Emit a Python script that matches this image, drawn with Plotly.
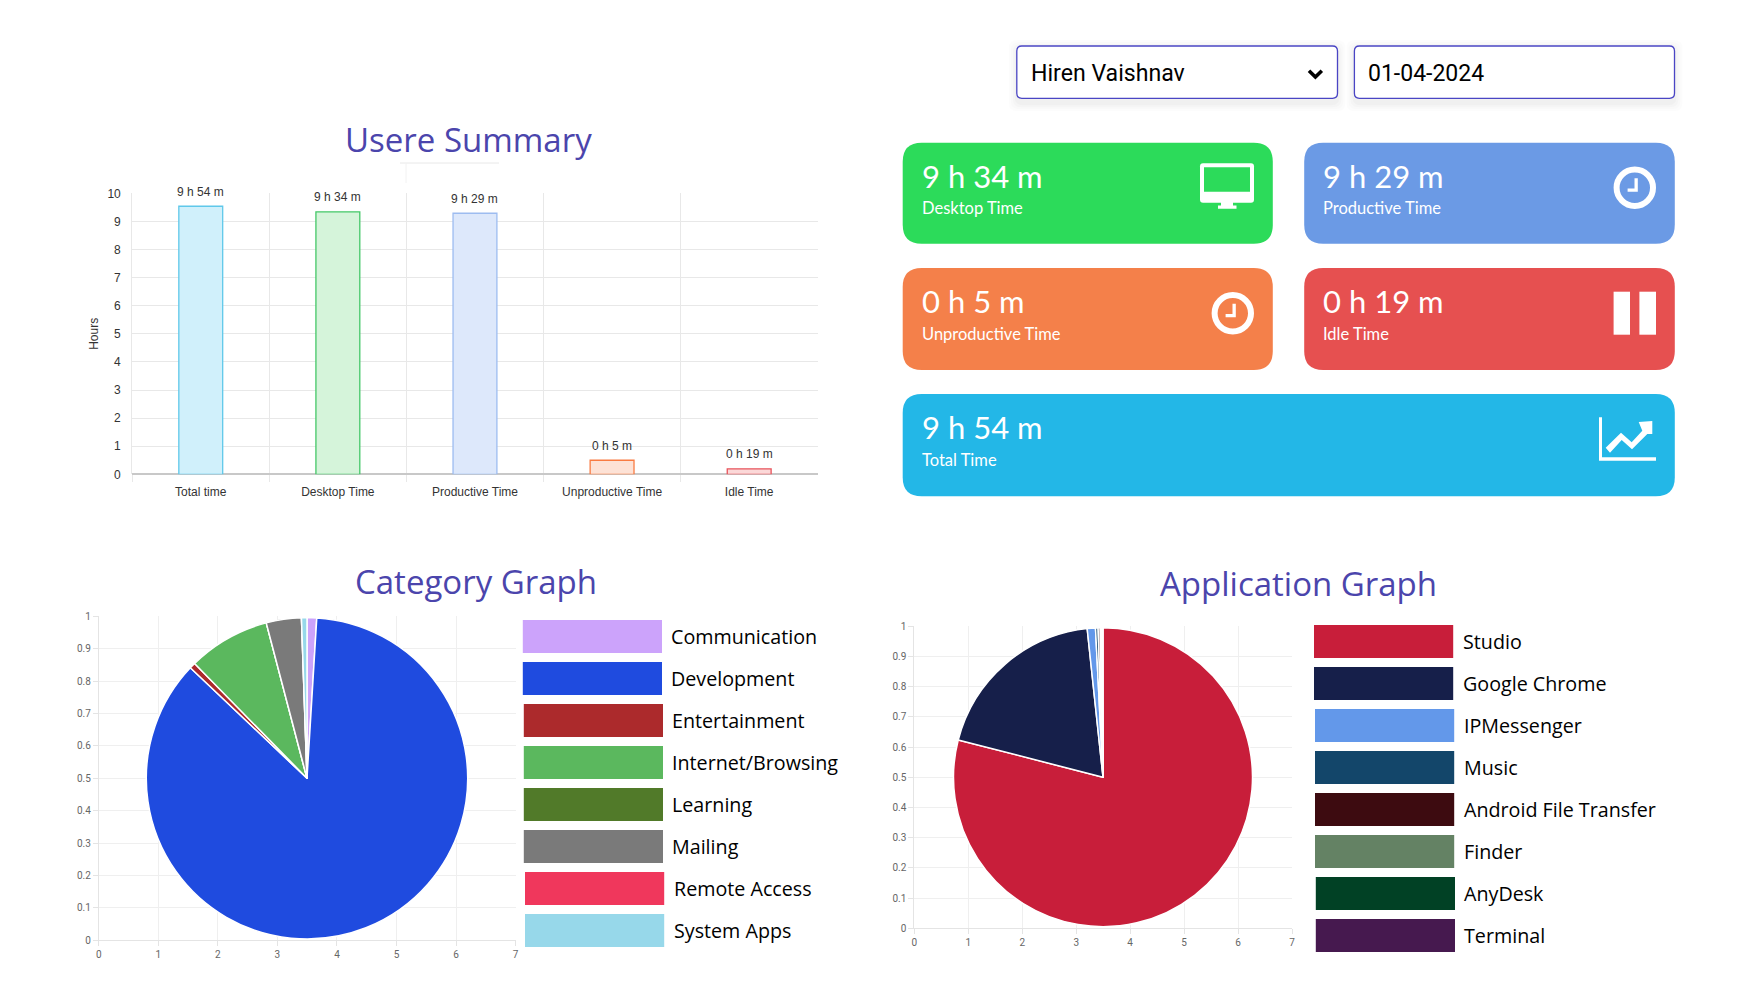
import plotly.graph_objects as go

W, H = 1745, 1000

# bar chart data
bar_labels = ["Total time", "Desktop Time", "Productive Time", "Unproductive Time", "Idle Time"]
bar_values = [9.54, 9.34, 9.29, 0.5, 0.19]
bar_text = ["9 h 54 m", "9 h 34 m", "9 h 29 m", "0 h 5 m", "0 h 19 m"]
bar_fill = ["#d0f0fb", "#d5f4da", "#dde8fb", "#fde2d6", "#fbd8d8"]
bar_edge = ["#5fc8ea", "#44c768", "#9dbcf0", "#f97b42", "#e8525a"]

# pies
cat_labels = ["Communication", "Development", "Entertainment", "Internet/Browsing",
              "Learning", "Mailing", "Remote Access", "System Apps"]
cat_values = [0.97, 86.1, 0.6, 8.25, 0, 3.53, 0, 0.55]
cat_colors = ["#cca3fb", "#1f4bdf", "#ac2a2c", "#5bb85e", "#517a29", "#7a7a7a", "#f0375c", "#97d8ea"]

app_labels = ["Studio", "Google Chrome", "IPMessenger", "Music", "Android File Transfer",
              "Finder", "AnyDesk", "Terminal"]
app_values = [79.0, 19.3, 0.89, 0.28, 0.22, 0.14, 0.08, 0.08]
app_colors = ["#c81e3a", "#161f4a", "#6398ea", "#13466a", "#3d0b10", "#648264", "#014125", "#46194f"]

# stat cards: value, caption, colour
card_values = ["9 h 34 m", "9 h 29 m", "0 h 5 m", "0 h 19 m", "9 h 54 m"]
card_names = ["Desktop Time", "Productive Time", "Unproductive Time", "Idle Time", "Total Time"]
card_colors = ["#2cdb5a", "#6b9ae5", "#f4804a", "#e65050", "#23b7e7"]

user_name = "Hiren Vaishnav"
date_text = "01-04-2024"

TITLE_COLOR = "#4b45ac"
GRID = "#e8e8e8"


def px(x):
    return x / W


def py(y):
    return 1 - y / H


def rounded(x0, y0, x1, y1, r):
    a, b, c, d = px(x0), py(y0), px(x1), py(y1)
    rx, ry = r / W, r / H
    return (f"M {a + rx} {b} L {c - rx} {b} Q {c} {b} {c} {b - ry} L {c} {d + ry} Q {c} {d} {c - rx} {d} "
            f"L {a + rx} {d} Q {a} {d} {a} {d + ry} L {a} {b - ry} Q {a} {b} {a + rx} {b} Z")


def poly(points, close=True):
    s = "M " + " L ".join(f"{px(x)} {py(y)}" for x, y in points)
    return s + (" Z" if close else "")


def add_path(path, fill="white", line=None, width=0):
    fig.add_shape(type="path", path=path, xref="paper", yref="paper", fillcolor=fill,
                  line=dict(color=line or "rgba(0,0,0,0)", width=width))


def add_text(x, y, text, size, color="black", family="Open Sans", anchor="left", weight=None):
    fig.add_annotation(x=px(x), y=py(y), xref="paper", yref="paper", text=text, showarrow=False,
                       xanchor=anchor, yanchor="middle",
                       font=dict(family=family, size=size, color=color, weight=weight))


def add_clock(cx, cy):
    fig.add_shape(type="circle", xref="paper", yref="paper", x0=px(cx - 18.2), x1=px(cx + 18.2),
                  y0=py(cy + 18.2), y1=py(cy - 18.2), line=dict(color="white", width=6))
    add_path(poly([(cx - 0.3, cy - 9.5), (cx + 3, cy - 9.5), (cx + 3, cy + 4), (cx - 7.2, cy + 4),
                   (cx - 7.2, cy + 0.7), (cx - 0.3, cy + 0.7)]))


fig = go.Figure()

# summary bars
fig.add_trace(go.Bar(x=bar_labels, y=bar_values, width=0.32, xaxis="x", yaxis="y",
                     marker=dict(color=bar_fill, line=dict(color=bar_edge, width=1.3)),
                     hoverinfo="skip", showlegend=False))
for lab, val, txt in zip(bar_labels, bar_values, bar_text):
    fig.add_annotation(x=lab, y=val, xref="x", yref="y", text=txt, showarrow=False, yshift=14.5,
                       font=dict(family="Liberation Sans", size=12, color="#333"))

# blank traces so the 0-7 / 0-1 grids behind the pies get drawn
for xa, ya in [("x2", "y2"), ("x3", "y3")]:
    fig.add_trace(go.Scatter(x=[None], y=[None], xaxis=xa, yaxis=ya, mode="markers",
                             showlegend=False, hoverinfo="skip"))

for vals, labs, cols, cx, cy, r in [(cat_values, cat_labels, cat_colors, 307, 778.3, 160.7),
                                    (app_values, app_labels, app_colors, 1103, 777.2, 149.5)]:
    fig.add_trace(go.Pie(values=vals, labels=labs, sort=False, direction="clockwise", rotation=0,
                         marker=dict(colors=cols, line=dict(color="white", width=1.5)),
                         textinfo="none", showlegend=False, hoverinfo="label+percent",
                         domain=dict(x=[px(cx - r), px(cx + r)], y=[py(cy + r), py(cy - r)])))


def empty_axes(x0, x1, y0, y1, xa, ya):
    xaxis = dict(domain=[px(x0), px(x1)], range=[0, 7], dtick=1, anchor=ya, gridcolor="#efefef",
                 ticks="outside", ticklen=5, tickcolor="#e4e4e4", linecolor="#e4e4e4", showline=True,
                 zeroline=False, tickfont=dict(family="Roboto", size=10, color="#666"))
    yaxis = dict(domain=[py(y1), py(y0)], range=[0, 1], dtick=0.1, anchor=xa, gridcolor="#efefef",
                 ticks="outside", ticklen=5, tickcolor="#e4e4e4", linecolor="#e4e4e4", showline=True,
                 zeroline=False, tickfont=dict(family="Roboto", size=10, color="#666"))
    return xaxis, yaxis


x2, y2 = empty_axes(98.8, 515.6, 616.3, 940.3, "x2", "y2")
x3, y3 = empty_axes(914.4, 1292, 626.4, 928.2, "x3", "y3")

fig.update_layout(
    template="none",
    width=W, height=H, margin=dict(l=0, r=0, t=0, b=0), paper_bgcolor="white", plot_bgcolor="rgba(0,0,0,0)",
    xaxis=dict(domain=[px(132.2), px(817.6)], range=[-0.5, 4.499], type="category", tickson="boundaries",
               anchor="y", gridcolor=GRID, ticks="outside", ticklen=7, tickcolor=GRID, ticklabelstandoff=9,
               tickfont=dict(family="Liberation Sans", size=12, color="#333")),
    yaxis=dict(domain=[py(474.3), py(193.3)], range=[0, 10], dtick=1, anchor="x", gridcolor=GRID,
               showline=True, linecolor=GRID, zerolinecolor="#c8c8c8", zerolinewidth=2, ticks="",
               ticklabelstandoff=8, tickfont=dict(family="Liberation Sans", size=12, color="#333"),
               title=dict(text="Hours", standoff=6, font=dict(family="Liberation Sans", size=12, color="#333"))),
    xaxis2=x2, yaxis2=y2, xaxis3=x3, yaxis3=y3,
)

# titles
add_text(468.5, 139, "Usere Summary", 33, TITLE_COLOR, anchor="center", weight=500)
add_text(475.7, 581, "Category Graph", 33, TITLE_COLOR, anchor="center", weight=500)
add_text(1298.7, 583, "Application Graph", 33, TITLE_COLOR, anchor="center", weight=500)

# leftover rule under the first title
fig.add_shape(type="line", xref="paper", yref="paper", x0=px(400), x1=px(499), y0=py(163), y1=py(163),
              line=dict(color="#e8e8e8", width=1))
fig.add_shape(type="line", xref="paper", yref="paper", x0=px(406), x1=px(406), y0=py(163), y1=py(183),
              line=dict(color="#f2f2f2", width=1))

# swatches and names next to the pies
for labs, cols, x0, y0, shifts in [(cat_labels, cat_colors, 522.8, 620, [0, 0, 1, 1, 1, 1, 2.2, 2.2]),
                                   (app_labels, app_colors, 1314, 625, [0, 0, 1, 1, 1, 1, 1.8, 1.8])]:
    for i, (lab, col) in enumerate(zip(labs, cols)):
        left = x0 + shifts[i]
        top = y0 + 42 * i
        add_path(poly([(left, top), (left + 139.2, top), (left + 139.2, top + 33), (left, top + 33)]), fill=col)
        add_text(left + 146.5, top + 16, lab, 19.7)

# select and date boxes with their soft shadow
for x0, x1 in [(1016.8, 1337.5), (1354.4, 1674.5)]:
    for grow, alpha in [(8, 0.012), (6, 0.012), (4, 0.015), (2, 0.02)]:
        add_path(rounded(x0 - grow, 46 - grow + 2, x1 + grow, 98.3 + grow + 5, 8), fill=f"rgba(0,0,0,{alpha})")
    add_path(rounded(x0, 46, x1, 98.3, 5), fill="white", line="#4a45c4", width=1.3)
add_text(1028.8, 73.5, user_name, 23.1, family="Roboto")
add_text(1365.5, 73.5, date_text, 23, family="Roboto")
add_path(poly([(1309, 70.8), (1315.4, 77), (1321.8, 70.8)], close=False), fill="rgba(0,0,0,0)", line="black", width=3.6)

# stat cards
card_boxes = [(902.7, 142.8, 1272.8, 243.8), (1304.2, 142.8, 1674.8, 243.8),
              (902.7, 268, 1272.8, 370), (1304.2, 268, 1674.8, 370),
              (902.7, 394, 1674.8, 496.3)]
for (x0, y0, x1, y1), col, val, name in zip(card_boxes, card_colors, card_values, card_names):
    add_path(rounded(x0, y0, x1, y1, 19), fill=col)
    add_text(x0 + 17, y0 + 33, val, 31, "white", "Lato")
    add_text(x0 + 17, y0 + 65.5, name, 16.5, "white", "Lato")

# monitor
add_path(rounded(1200, 163.3, 1254, 202.7, 3))
add_path(poly([(1204, 167.3), (1250, 167.3), (1250, 191.7), (1204, 191.7)]), fill=card_colors[0])
add_path(poly([(1221, 202), (1233, 202), (1233, 205.5), (1236.5, 205.5), (1236.5, 208.7), (1218, 208.7), (1218, 205.5), (1221, 205.5)]))

add_clock(1634.8, 187.7)
add_clock(1232.8, 313.3)

# pause
add_path(poly([(1613.6, 291.7), (1630, 291.7), (1630, 334.7), (1613.6, 334.7)]))
add_path(poly([(1639.4, 291.7), (1656, 291.7), (1656, 334.7), (1639.4, 334.7)]))

# trend icon
add_path(poly([(1599, 417.3), (1602, 417.3), (1602, 457.3), (1656, 457.3), (1656, 460.7), (1599, 460.7)]))
add_path(poly([(1605.7, 447.7), (1621, 432.7), (1631.7, 442.3), (1642.3, 430.7), (1638.7, 422), (1652.3, 421),
               (1652.3, 434), (1647.3, 434), (1632, 449.3), (1621.7, 440), (1610, 452.7)]))

fig.write_html("out.html", config=dict(displayModeBar=False), post_script="document.body.style.margin='0';")
